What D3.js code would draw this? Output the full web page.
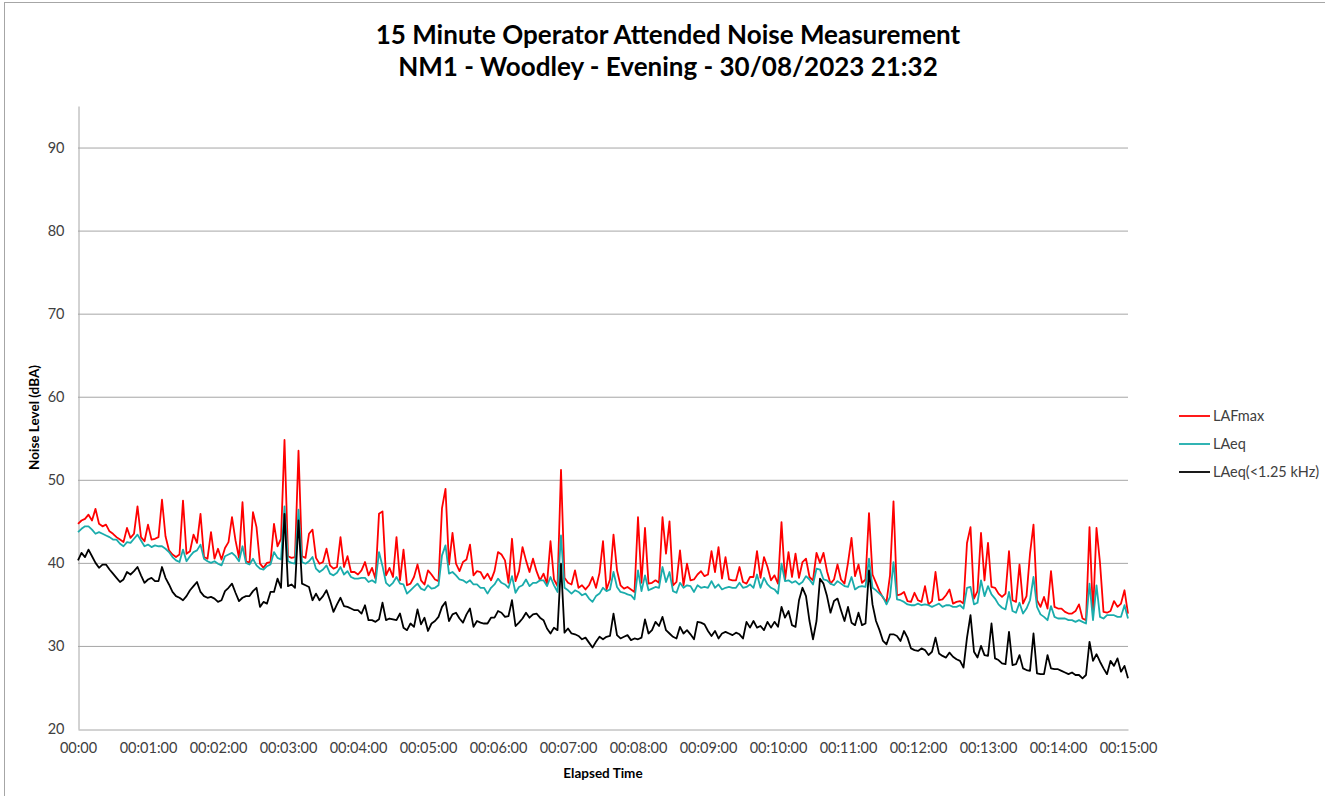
<!DOCTYPE html>
<html>
<head>
<meta charset="utf-8">
<script src="https://cdn.jsdelivr.net/npm/d3@7"></script>
<style>
  body { margin: 0; background: #fff; }
  text { font-family: Lato, "Liberation Sans", sans-serif; }
</style>
</head>
<body>
<svg id="chart" width="1325" height="796"></svg>
<script>
// one sample every 3 s, 15 minutes
const stepSec = 3;

const lafmax = [
  44.7,45.1,45.3,45.8,45.1,46.5,44.7,44.4,44.6,43.8,43.5,43.1,42.8,42.5,44.2,43.0,43.5,46.8,43.1,42.6,
  44.6,42.8,42.9,43.1,47.6,43.2,41.5,41.0,40.7,41.0,47.5,41.1,41.4,43.4,42.4,45.9,40.7,40.5,43.7,40.5,
  41.7,40.4,41.8,42.5,45.5,42.7,40.6,47.3,40.2,40.0,46.1,44.3,39.9,39.4,40.0,40.1,44.7,42.0,42.9,54.8,
  40.8,40.6,40.7,53.5,40.8,40.6,43.5,44.0,40.6,39.9,40.1,41.7,39.7,39.3,39.5,43.1,39.5,40.8,38.9,38.9,
  38.6,39.1,40.1,38.5,39.4,38.1,45.9,46.2,38.5,39.4,38.3,43.1,37.9,41.6,37.3,37.5,38.3,39.8,37.9,37.4,
  39.1,38.6,38.0,37.8,46.6,48.9,39.8,43.6,39.9,39.0,40.1,40.4,42.2,38.5,39.0,38.9,38.1,38.7,37.9,39.0,
  41.3,41.0,40.3,37.6,42.9,37.8,39.0,41.9,40.3,38.9,40.5,39.0,37.9,38.7,37.5,42.6,38.0,37.2,51.2,38.2,
  37.6,37.4,39.1,37.0,37.3,36.8,37.3,38.3,37.0,38.8,42.6,36.8,38.0,43.4,39.1,37.3,36.9,37.1,36.8,36.5,
  45.5,37.6,44.2,37.5,37.6,37.9,37.6,45.5,41.1,45.0,37.3,37.7,41.5,37.3,39.9,37.9,38.0,38.6,39.0,38.4,
  38.6,41.4,38.9,41.9,38.1,40.7,38.0,37.9,37.9,39.5,37.7,37.5,38.3,38.3,41.4,38.2,40.7,39.5,37.9,38.5,
  37.5,44.9,37.9,41.3,38.3,41.1,38.2,40.1,40.5,38.3,37.9,41.2,40.0,41.2,39.0,37.5,38.0,39.8,38.0,37.5,
  40.0,43.0,38.4,39.8,37.6,38.0,46.0,38.6,37.6,36.6,35.8,35.3,38.5,47.4,36.1,36.2,36.5,35.4,35.3,36.4,
  35.5,35.3,37.2,35.0,35.4,38.9,35.5,35.6,36.1,36.8,35.1,35.3,35.4,35.1,42.4,44.3,35.7,36.6,43.6,37.9,
  42.4,37.1,37.0,36.3,35.9,36.3,41.4,35.5,35.3,39.8,35.1,36.0,41.1,44.6,35.5,34.7,35.9,34.5,39.0,34.7,
  34.5,34.5,34.1,33.9,33.9,34.2,35.0,33.3,33.1,44.3,33.8,44.2,40.0,34.1,34.0,34.2,35.4,34.7,35.1,36.7,
  33.9
];

const laeq = [
  43.7,44.1,44.4,44.4,44.0,43.5,43.7,43.5,43.3,43.1,42.8,42.8,42.3,42.0,42.5,42.4,42.9,43.4,42.7,42.0,
  42.2,41.9,42.1,42.0,42.0,41.7,41.3,40.7,40.3,40.1,41.6,40.2,40.8,41.3,41.5,42.2,40.5,40.2,40.0,40.2,
  39.9,39.7,40.8,41.0,41.2,40.8,40.2,42.0,40.0,39.8,40.5,39.7,39.3,39.2,39.6,39.8,41.3,40.6,40.4,46.8,
  40.2,40.0,39.9,46.4,40.1,39.9,40.2,40.7,39.3,38.9,39.2,39.7,38.7,38.5,38.8,39.5,38.6,39.0,38.3,38.1,
  38.1,38.2,38.2,37.7,37.9,37.6,41.3,39.6,37.6,37.2,37.6,38.3,37.5,37.4,36.3,36.7,37.1,37.5,36.9,36.7,
  37.3,36.9,37.0,37.3,40.9,42.1,38.7,38.9,38.5,38.0,37.9,37.6,37.9,37.4,37.4,37.0,37.0,36.3,37.0,37.4,
  38.1,37.6,37.4,37.0,38.4,36.4,37.1,37.3,38.0,37.2,37.6,37.6,37.9,37.9,37.2,38.3,37.3,36.5,43.3,37.0,
  36.7,36.3,36.7,36.5,36.1,36.3,35.7,35.3,36.0,36.3,37.0,36.6,36.8,38.9,37.1,36.5,36.4,36.2,36.1,35.6,
  39.1,36.6,38.5,36.7,36.9,37.1,37.0,39.5,37.7,38.9,36.6,36.4,37.6,37.0,37.3,37.2,36.5,37.3,37.0,37.1,
  37.0,37.8,37.0,37.4,36.8,37.0,37.1,37.0,37.0,37.6,37.0,37.1,37.4,37.0,38.6,37.0,38.2,37.4,37.0,36.8,
  36.3,39.9,37.8,37.9,37.6,37.8,37.4,37.7,38.4,38.0,37.4,39.3,39.2,38.0,37.9,37.5,37.3,37.8,37.5,37.2,
  37.1,38.3,36.8,37.1,37.2,37.1,40.5,37.0,36.7,36.3,35.9,35.0,35.9,40.1,35.6,35.5,35.3,35.0,34.9,34.9,
  35.1,34.9,35.0,34.9,34.7,34.9,35.1,34.7,34.9,34.9,34.7,34.7,34.9,34.5,37.0,37.1,35.0,35.2,37.9,36.0,
  37.2,36.2,35.7,35.0,34.6,34.4,36.5,34.2,34.0,35.2,33.9,34.5,35.5,38.3,34.7,33.8,33.5,33.1,34.8,33.5,
  33.3,33.3,33.3,33.1,33.1,32.9,33.1,32.9,32.7,37.5,33.1,37.3,33.5,33.3,33.7,33.7,33.7,33.5,33.5,34.9,
  33.3
];

const laeqLow = [
  40.3,41.2,40.7,41.6,40.8,40.0,39.4,39.8,39.8,39.2,38.7,38.2,37.7,38.0,38.9,38.6,39.0,39.5,38.5,37.6,
  38.0,38.2,37.8,37.8,39.5,38.2,37.4,36.5,36.0,35.8,35.5,36.0,36.7,37.2,37.7,36.5,36.0,35.8,35.9,35.7,
  35.3,35.5,36.6,37.0,37.5,36.4,35.4,35.8,36.0,36.0,36.6,37.0,34.7,35.3,35.1,36.5,36.5,38.1,37.0,45.9,
  37.2,37.4,37.0,45.1,37.5,37.3,37.1,35.5,36.3,35.5,36.0,36.7,35.5,34.1,35.0,35.8,34.8,34.7,34.5,34.3,
  34.3,33.9,34.9,33.1,33.1,32.9,33.2,35.2,33.1,33.3,33.2,33.1,33.9,32.2,31.9,32.7,32.3,34.4,32.6,33.4,
  31.8,32.7,33.0,33.5,34.7,35.3,33.0,33.8,34.0,33.3,32.8,33.8,34.5,32.3,33.0,32.8,32.7,32.7,33.4,33.4,
  34.2,34.0,33.5,33.6,35.5,32.4,32.8,33.3,34.0,33.4,33.8,33.9,33.4,33.1,32.1,31.5,32.2,31.9,39.9,31.6,
  32.1,31.5,31.4,31.2,30.8,31.0,30.4,29.8,30.5,31.1,30.8,31.1,31.2,33.9,31.3,30.9,31.1,31.3,30.7,30.9,
  30.8,31.0,33.2,31.5,31.9,32.9,32.4,33.5,31.9,31.5,31.1,30.9,32.3,31.5,31.9,31.4,30.8,32.9,32.8,32.6,
  31.8,31.2,31.8,30.9,31.5,31.7,31.5,31.3,31.6,31.4,30.9,32.9,32.2,33.0,32.2,32.4,31.9,32.9,32.2,32.9,
  32.3,34.7,33.4,34.2,32.5,32.3,35.5,37.0,36.0,33.0,30.8,33.0,38.1,37.5,36.0,34.0,35.4,35.7,34.3,33.0,
  34.7,32.8,32.5,34.0,32.5,32.7,39.1,35.0,33.0,31.9,30.6,30.2,31.4,31.4,31.2,30.6,31.8,31.0,29.7,29.5,
  29.4,29.7,29.5,28.9,29.3,31.0,29.1,28.8,28.6,29.2,28.7,28.4,28.2,27.4,31.0,33.7,29.3,28.6,30.0,28.9,
  28.8,32.7,28.5,28.3,27.9,27.8,31.7,27.7,27.8,28.9,27.3,27.1,27.0,31.5,26.7,26.6,26.6,28.9,27.3,27.2,
  27.2,27.0,26.8,26.6,26.8,26.5,26.5,26.1,26.5,30.5,28.2,29.0,28.1,27.3,26.6,28.2,27.6,28.5,26.9,27.6,
  26.1
];

const yTicks = [20, 30, 40, 50, 60, 70, 80, 90];
const xTickLabels = ["00:00","00:01:00","00:02:00","00:03:00","00:04:00","00:05:00","00:06:00","00:07:00",
  "00:08:00","00:09:00","00:10:00","00:11:00","00:12:00","00:13:00","00:14:00","00:15:00"];
const seriesNames = ["LAFmax", "LAeq", "LAeq(<1.25 kHz)"];
const seriesColors = ["#ff0000", "#1aacac", "#000000"];

const svg = d3.select("#chart");
const plot = { left: 78, right: 1128, top: 106, bottom: 729 };

// chart frame
svg.append("rect")
  .attr("x", 4.5).attr("y", 2.5)
  .attr("width", 1330).attr("height", 800)
  .attr("fill", "none").attr("stroke", "#a6a6a6");

const x = d3.scaleLinear().domain([0, 900]).range([plot.left, plot.right]);
const y = d3.scaleLinear().domain([20, 95]).range([plot.bottom, plot.top]);

// gridlines
svg.append("g")
  .selectAll("line")
  .data(yTicks.slice(1))
  .enter().append("line")
  .attr("x1", plot.left).attr("x2", plot.right)
  .attr("y1", d => y(d) + 0.5).attr("y2", d => y(d) + 0.5)
  .attr("stroke", "#a6a6a6").attr("stroke-width", 1);

// y axis
const yAxis = svg.append("g")
  .attr("transform", "translate(" + (plot.left + 0.5) + ",0)")
  .call(d3.axisLeft(y).tickValues(yTicks).tickSize(0).tickPadding(14));
yAxis.select(".domain").attr("stroke", "#a6a6a6");
yAxis.selectAll("text").attr("font-size", 14.5).attr("fill", "#404040")
  .style("font-family", "Lato, sans-serif");

// x axis
const xAxis = svg.append("g")
  .attr("transform", "translate(0," + (plot.bottom + 0.5) + ")")
  .call(d3.axisBottom(x)
    .tickValues(d3.range(0, 901, 60))
    .tickFormat((d, i) => xTickLabels[i])
    .tickSize(0).tickPadding(13));
xAxis.select(".domain").attr("stroke", "#a6a6a6");
xAxis.selectAll("text").attr("font-size", 14.5).attr("fill", "#404040")
  .style("font-family", "Lato, sans-serif");

// series
const line = d3.line()
  .x((d, i) => x(i * stepSec))
  .y(d => y(d));

[lafmax, laeq, laeqLow].forEach(function (s, k) {
  svg.append("path")
    .datum(s)
    .attr("fill", "none")
    .attr("stroke", seriesColors[k])
    .attr("stroke-width", 1.8)
    .attr("stroke-linejoin", "round")
    .attr("d", line);
});

// titles
svg.append("text")
  .attr("x", 668).attr("y", 44)
  .attr("text-anchor", "middle")
  .attr("font-size", 26).attr("font-weight", "bold")
  .text("15 Minute Operator Attended Noise Measurement");
svg.append("text")
  .attr("x", 668).attr("y", 76)
  .attr("text-anchor", "middle")
  .attr("font-size", 26).attr("font-weight", "bold")
  .text("NM1 - Woodley - Evening - 30/08/2023 21:32");

svg.append("text")
  .attr("transform", "translate(39," + ((plot.top + plot.bottom) / 2) + ") rotate(-90)")
  .attr("text-anchor", "middle")
  .attr("font-size", 13.5).attr("font-weight", "bold")
  .text("Noise Level (dBA)");

svg.append("text")
  .attr("x", (plot.left + plot.right) / 2).attr("y", 778)
  .attr("text-anchor", "middle")
  .attr("font-size", 13.5).attr("font-weight", "bold")
  .text("Elapsed Time");

// legend
const legend = svg.append("g").attr("transform", "translate(1179,416)");
seriesNames.forEach(function (name, k) {
  const g = legend.append("g").attr("transform", "translate(0," + (k * 28) + ")");
  g.append("line")
    .attr("x1", 0).attr("x2", 31)
    .attr("stroke", seriesColors[k]).attr("stroke-width", 1.8);
  g.append("text")
    .attr("x", 34).attr("y", 5)
    .attr("font-size", 14.5).attr("fill", "#404040")
    .text(name);
});
</script>
</body>
</html>
